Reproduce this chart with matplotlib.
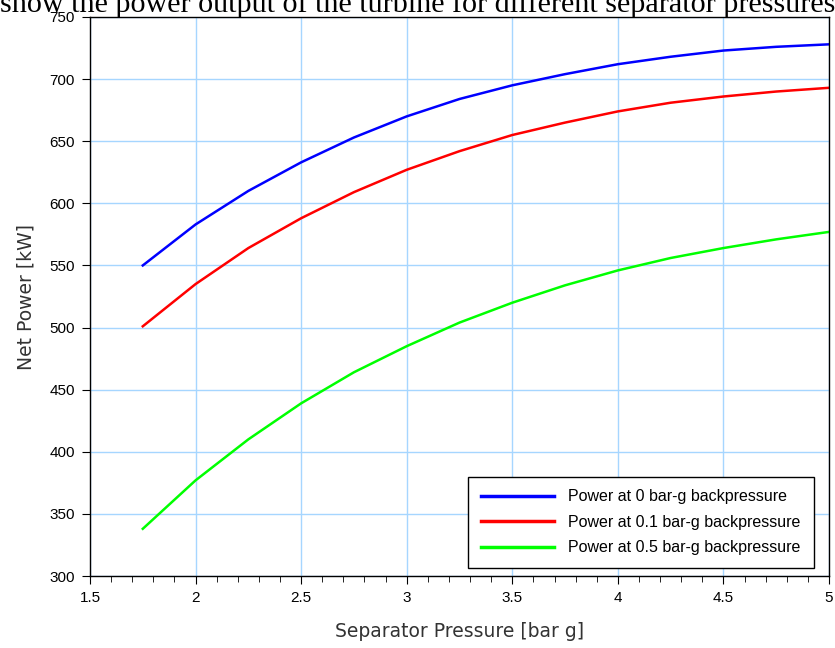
import matplotlib
matplotlib.use("Agg")
import matplotlib.pyplot as plt
from matplotlib.ticker import MultipleLocator, FuncFormatter

sep_pressure = [1.75, 2.0, 2.25, 2.5, 2.75, 3.0, 3.25, 3.5, 3.75, 4.0, 4.25, 4.5, 4.75, 5.0]
power_0 = [550, 583, 610, 633, 653, 670, 684, 695, 704, 712, 718, 723, 726, 728]
power_01 = [501, 535, 564, 588, 609, 627, 642, 655, 665, 674, 681, 686, 690, 693]
power_05 = [338, 377, 410, 439, 464, 485, 504, 520, 534, 546, 556, 564, 571, 577]
labels = ["Power at 0 bar-g backpressure",
          "Power at 0.1 bar-g backpressure",
          "Power at 0.5 bar-g backpressure"]
colors = ["#0000ff", "#ff0000", "#00ff00"]

fig = plt.figure(figsize=(8.35, 6.48), dpi=100)
ax = fig.add_axes([90/835, 1-576/648, (829-90)/835, (576-17)/648])

for y, lab, c in zip([power_0, power_01, power_05], labels, colors):
    ax.plot(sep_pressure, y, color=c, lw=1.8, label=lab)

ax.set_xlim(1.5, 5)
ax.set_ylim(300, 750)
ax.xaxis.set_major_locator(MultipleLocator(0.5))
ax.xaxis.set_minor_locator(MultipleLocator(0.1))
ax.yaxis.set_major_locator(MultipleLocator(50))
ax.xaxis.set_major_formatter(FuncFormatter(lambda v, p: f"{v:g}"))
ax.grid(True, which="major", color="#a6d6ff", lw=1.0)
ax.set_axisbelow(True)
ax.tick_params(which="both", direction="out", top=False, right=False)
ax.tick_params(which="major", length=6, labelsize=11, pad=5)
ax.tick_params(which="minor", length=4)
for t in ax.get_xticklabels() + ax.get_yticklabels():
    t.set_family("Liberation Sans")
for s in ax.spines.values():
    s.set_linewidth(1.0)
ax.set_xlabel("Separator Pressure [bar g]", fontsize=13.5, labelpad=12, color="#333333")
ax.set_ylabel("Net Power [kW]", fontsize=13.5, labelpad=10, color="#333333")

leg = ax.legend(loc="lower right", fancybox=False, framealpha=1,
                edgecolor="black", borderpad=0.8, handlelength=4.6, labelspacing=0.65,
                handletextpad=0.9, bbox_to_anchor=(0.99, 0.0),
                prop={"family": "Liberation Sans", "size": 11.5})
leg.get_frame().set_linewidth(1.0)
for h in leg.get_lines():
    h.set_linewidth(2.5)

fig.text(0.0, 1 - 12/648, "show the power output of the turbine for different separator pressures",
         family="Liberation Serif", fontsize=21.7, va="baseline", ha="left")

fig.savefig("out.png", dpi=100)
